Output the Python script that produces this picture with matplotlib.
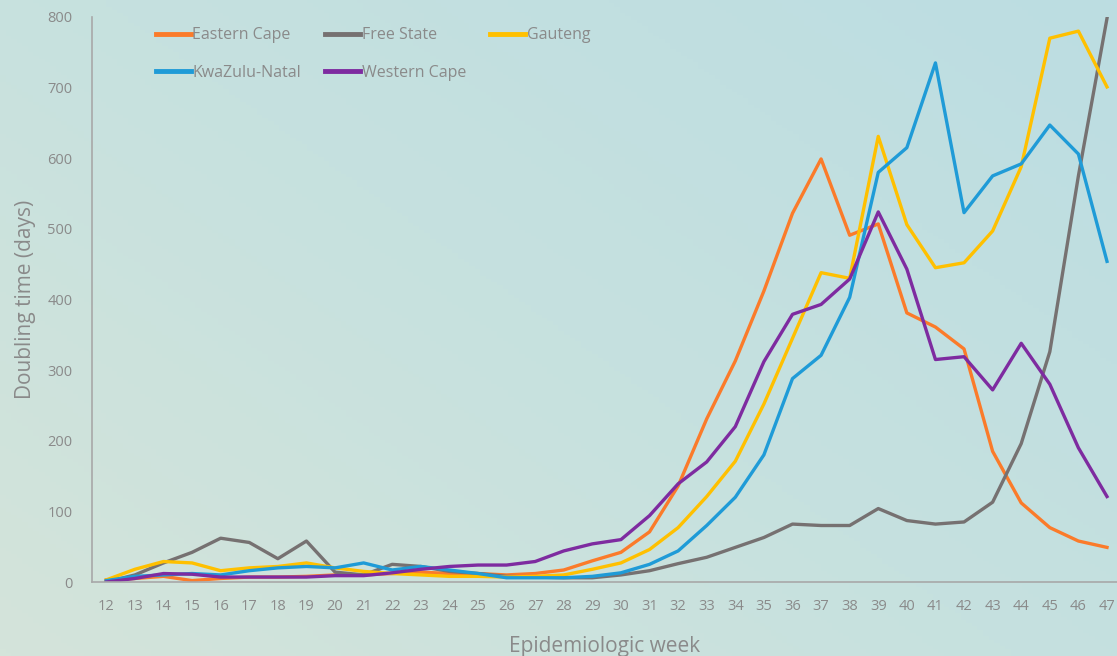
import numpy as np
import matplotlib
matplotlib.use('Agg')
from matplotlib import pyplot as plt
from matplotlib.colors import LinearSegmentedColormap

weeks = list(range(12, 48))

eastern_cape = [3, 5, 8, 2, 5, 7, 7, 8, 10, 10, 12, 14, 12, 12, 10, 12, 17, 30, 42, 71,
                136, 231, 313, 412, 522, 599, 491, 507, 381, 361, 330, 185, 112, 77, 58, 49]
free_state = [0, 10, 27, 42, 62, 56, 33, 58, 14, 10, 25, 22, 15, 12, 8, 7, 6, 6, 10, 16,
              26, 35, 49, 63, 82, 80, 80, 104, 87, 82, 85, 113, 196, 326, 575, 798]
gauteng = [3, 18, 29, 27, 16, 20, 22, 27, 20, 15, 12, 10, 8, 8, 7, 8, 10, 18, 27, 46,
           77, 121, 171, 252, 345, 438, 430, 631, 506, 445, 452, 497, 588, 770, 780, 701]
kwazulu_natal = [2, 8, 10, 12, 10, 16, 20, 22, 20, 27, 17, 22, 17, 12, 6, 6, 6, 8, 13, 25,
                 44, 80, 120, 180, 288, 321, 403, 580, 615, 735, 523, 575, 592, 647, 606, 454]
western_cape = [0, 5, 12, 11, 7, 7, 7, 7, 9, 9, 13, 18, 22, 24, 24, 29, 44, 54, 60, 94,
                139, 170, 220, 312, 379, 393, 429, 524, 443, 315, 319, 272, 338, 280, 190, 121]

series = [('Eastern Cape', eastern_cape, '#fb7b2a'),
          ('Free State', free_state, '#767171'),
          ('Gauteng', gauteng, '#ffc000'),
          ('KwaZulu-Natal', kwazulu_natal, '#1f9bd7'),
          ('Western Cape', western_cape, '#7e2ba0')]

plt.rcParams['font.family'] = ['Open Sans', 'DejaVu Sans']
text_col = '#8a8a8a'

fig = plt.figure(figsize=(11.17, 6.56), dpi=100)

# gradient background
bg = fig.add_axes([0, 0, 1, 1], zorder=0)
cmap = LinearSegmentedColormap.from_list('bg', ['#d4e4da', '#c6e1df', '#bcdde2'])
xx, yy = np.meshgrid(np.linspace(0, 1, 200), np.linspace(0, 1, 200))
bg.imshow(0.55 * xx + 0.45 * yy, cmap=cmap, origin='lower', aspect='auto', extent=[0, 1, 0, 1])
bg.axis('off')

ax = fig.add_axes([92 / 1117, 74 / 656, 1025 / 1117, 565 / 656], zorder=1)
ax.patch.set_alpha(0)

lines = {}
for name, vals, col in series:
    lines[name], = ax.plot(weeks, vals, color=col, lw=2.4, label=name)

ax.set_xlim(11.5, 47.35)
ax.set_ylim(0, 800)
ax.set_xticks(weeks)
ax.set_yticks(range(0, 801, 100))
ax.tick_params(length=0, colors=text_col, labelsize=10.5)
ax.tick_params(axis='x', pad=12)
ax.tick_params(axis='y', pad=14)
for s in ['top', 'right']:
    ax.spines[s].set_visible(False)
for s in ['left', 'bottom']:
    ax.spines[s].set_color('#a8a8a8')
    ax.spines[s].set_linewidth(1.2)

ax.set_ylabel('Doubling time (days)', color=text_col, fontsize=15, labelpad=8)
ax.set_xlabel('Epidemiologic week', color=text_col, fontsize=15, labelpad=16)

# legend filled row by row like the original
order = ['Eastern Cape', 'KwaZulu-Natal', 'Free State', 'Western Cape', 'Gauteng']
leg = ax.legend([lines[n] for n in order], order, ncol=3, loc='upper left',
                bbox_to_anchor=(0.052, 1.0), frameon=False,
                fontsize=11.5, labelcolor=text_col, handlelength=2.2, handletextpad=0.1,
                columnspacing=1.5, labelspacing=1.35, borderaxespad=0.25)
for h in leg.get_lines():
    h.set_linewidth(3.5)

fig.savefig('out.png', dpi=100)
